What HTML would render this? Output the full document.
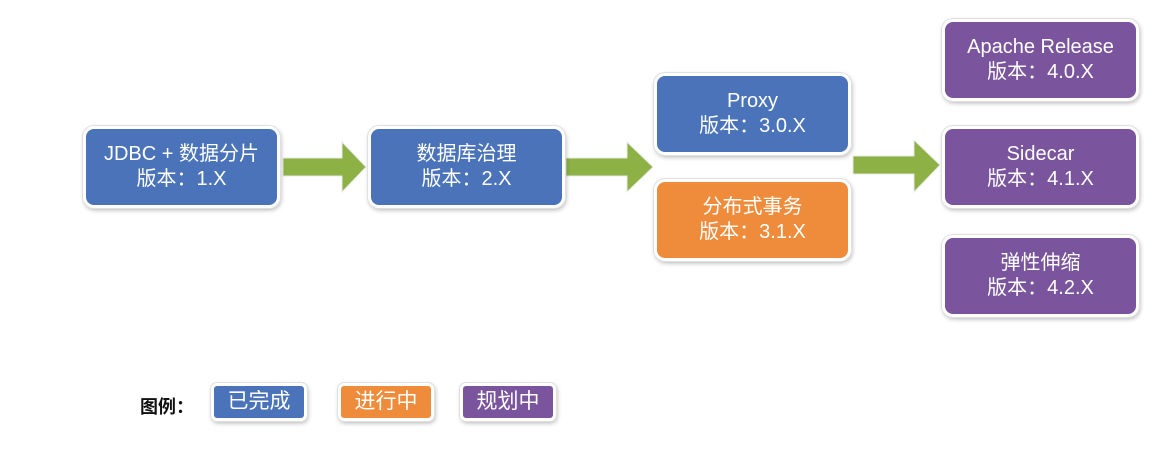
<!DOCTYPE html>
<html><head><meta charset="utf-8"><style>
body{margin:0;width:1168px;height:454px;background:#fff;position:relative;overflow:hidden;font-family:"Liberation Sans","Noto Sans CJK SC",sans-serif;}
.b{position:absolute;width:197px;height:82px;border:3px solid #fff;border-radius:11px;box-shadow:0 0 0 1px #e0e0e0,1px 2px 5px rgba(0,0,0,.3);color:#fff;font-size:20px;line-height:25px;text-align:center;display:flex;flex-direction:column;justify-content:center;box-sizing:border-box;}
.bl{background:#4a73b9}.or{background:#ef8c3b}.pu{background:#7a559e}
.l{position:absolute;top:383px;width:96px;height:38px;border:3px solid #fff;border-radius:6px;box-shadow:0 0 0 1px #e0e0e0,1px 2px 5px rgba(0,0,0,.3);color:#fff;font-size:21px;line-height:32px;text-align:center;box-sizing:border-box;}
svg{position:absolute;left:0;top:0}
</style></head><body>
<svg width="1168" height="454">
<g fill="#8db145" stroke="#e8e8e8" stroke-width="1">
<polygon points="283,158 342,158 342,142 366,167 342,192 342,176 283,176"/>
<polygon points="566,158 627,158 627,142 653,167 627,192 627,176 566,176"/>
<polygon points="853,156 914,156 914,140 940,165 914,192 914,174 853,174"/>
</g></svg>
<div class="b bl" style="left:83px;top:126px">JDBC + 数据分片<br>版本：1.X</div>
<div class="b bl" style="left:368px;top:126px">数据库治理<br>版本：2.X</div>
<div class="b bl" style="left:654px;top:73px">Proxy<br>版本：3.0.X</div>
<div class="b or" style="left:654px;top:179px">分布式事务<br>版本：3.1.X</div>
<div class="b pu" style="left:942px;top:19px">Apache Release<br>版本：4.0.X</div>
<div class="b pu" style="left:942px;top:126px">Sidecar<br>版本：4.1.X</div>
<div class="b pu" style="left:942px;top:235px">弹性伸缩<br>版本：4.2.X</div>
<div style="position:absolute;left:140px;top:393px;font-size:18px;font-weight:bold;color:#111">图例：</div>
<div class="l bl" style="left:211px">已完成</div>
<div class="l or" style="left:338px">进行中</div>
<div class="l pu" style="left:460px">规划中</div>
</body></html>
